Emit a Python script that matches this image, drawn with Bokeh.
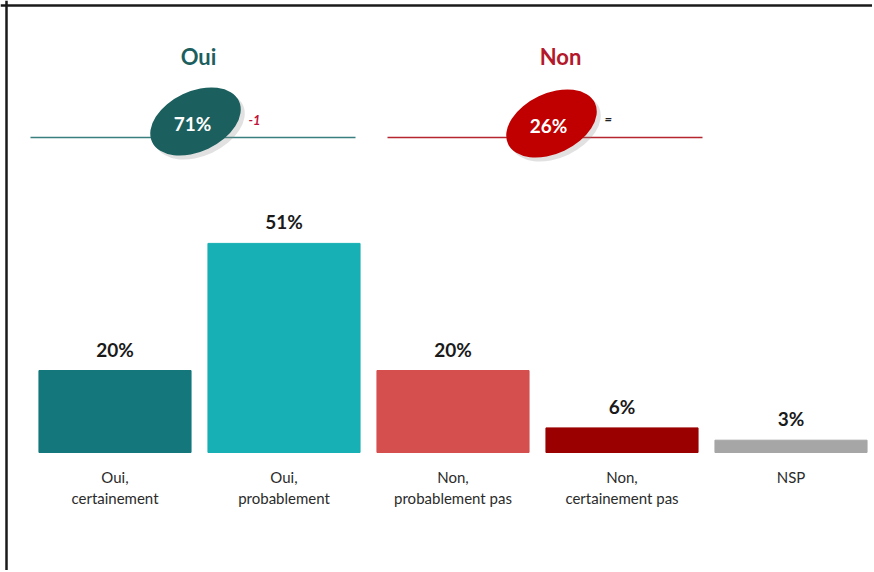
from bokeh.plotting import figure
from bokeh.models import Range1d, Span, ColumnDataSource
from bokeh.core.properties import value
from bokeh.embed import file_html
from bokeh.resources import INLINE

# ---- data ----
categories = ["Oui,\ncertainement", "Oui,\nprobablement", "Non,\nprobablement pas",
              "Non,\ncertainement pas", "NSP"]
values = [20, 51, 20, 6, 3]
value_labels = ["20%", "51%", "20%", "6%", "3%"]
bar_colors = ["#13777c", "#17b0b4", "#d64f4f", "#9b0000", "#a6a6a6"]

groups = ["Oui", "Non"]
group_totals = ["71%", "26%"]
group_changes = ["-1", "="]
group_colors = ["#1b5f5e", "#c00000"]
group_title_colors = ["#1d5f5e", "#b3182b"]
group_line_colors = ["#3a7f7f", "#b5262e"]
change_colors = ["#c0143c", "#222222"]

# ---- layout constants (screen pixels) ----
W, H = 872, 570
PAGE = 0
PX_PER_CAT = 169.0
FIRST_CENTER = 114.5
PX_PER_PCT = 4.1
BASELINE = 452.0

x_start = -(FIRST_CENTER - PAGE) / PX_PER_CAT
x_end = x_start + W / PX_PER_CAT
y_start = -((PAGE + H) - BASELINE) / PX_PER_PCT
y_end = y_start + H / PX_PER_PCT


def xd(sx):
    return x_start + (sx - PAGE) / PX_PER_CAT


def yd(sy):
    return y_end - (sy - PAGE) / PX_PER_PCT


FONT = value("Lato")

p = figure(width=W, height=H, output_backend="svg", toolbar_location=None,
           x_range=Range1d(x_start, x_end), y_range=Range1d(y_start, y_end),
           min_border=0, outline_line_color=None, background_fill_color="white",
           border_fill_color="white")
p.axis.visible = False
p.grid.visible = False

# bars
idx = list(range(len(categories)))
src = ColumnDataSource(dict(x=idx, top=values, color=bar_colors, lab=value_labels,
                            cat=categories))
p.vbar(x="x", top="top", bottom=0, width=0.9, color="color", source=src)
p.text(x="x", y="top", text="lab", source=src, text_align="center",
       text_baseline="bottom", y_offset=-10, text_font=FONT, text_font_style="bold",
       text_font_size="19px", text_color="#1a1a1a")
p.text(x="x", y=0, text="cat", source=src, text_align="center", text_baseline="top",
       y_offset=15, text_font=FONT, text_font_size="15px", text_color="#2b2b2b",
       text_line_height=1.2)

# summary block
title_x = [xd(198), xd(560)]
title_y = [yd(56), yd(56)]
line_x0 = [xd(30), xd(387)]
line_x1 = [xd(355), xd(702)]
line_y = [yd(137), yd(137)]
ell_x = [xd(195), xd(551)]
ell_y = [yd(121), yd(123)]
chg_x = [xd(248), xd(604)]
chg_y = [yd(119), yd(118)]

p.segment(x0=line_x0, y0=line_y, x1=line_x1, y1=line_y, line_color=group_line_colors,
          line_width=1.6)
# soft shadow
p.ellipse(x=[v + 4 / PX_PER_CAT for v in ell_x], y=[v - 4 / PX_PER_PCT for v in ell_y],
          width=96, height=60, width_units="screen", height_units="screen",
          angle=0.44, fill_color="#888888", fill_alpha=0.25, line_color=None)
p.ellipse(x=ell_x, y=ell_y, width=96, height=60, width_units="screen",
          height_units="screen", angle=0.44, fill_color=group_colors, line_color=None)
p.text(x=ell_x, y=ell_y, text=group_totals, text_align="center", text_baseline="middle",
       text_font=FONT, text_font_style="bold", text_font_size="19px", text_color="white",
       x_offset=-3, y_offset=2)
p.text(x=title_x, y=title_y, text=groups, text_align="center", text_baseline="middle",
       text_font=FONT, text_font_style="bold", text_font_size="22px",
       text_color=group_title_colors)
p.text(x=chg_x, y=chg_y, text=group_changes, text_align="left", text_baseline="middle",
       text_font=FONT, text_font_style="bold italic", text_font_size="13px",
       text_color=change_colors)

# frame (top and left edges)
p.add_layout(Span(location=xd(6), dimension="height", line_color="#1a1a1a", line_width=2.5))
p.add_layout(Span(location=yd(5), dimension="width", line_color="#1a1a1a", line_width=2.5))

open("out.html", "w").write(file_html(p, INLINE))
